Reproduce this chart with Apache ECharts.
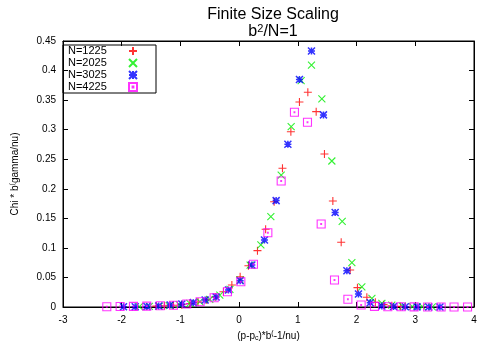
<!DOCTYPE html>
<html>
<head>
<meta charset="utf-8">
<script src="https://cdn.jsdelivr.net/npm/echarts@6/dist/echarts.min.js"></script>
<style>
  html, body { margin: 0; padding: 0; background: #fff; }
  #chart { width: 477px; height: 343px; }
</style>
</head>
<body>
<div id="chart"></div>
<script>
// data
var seriesNames = ['N=1225', 'N=2025', 'N=3025', 'N=4225'];

var x1225 = [-1.41, -1.27, -1.12, -0.98, -0.84, -0.70, -0.55, -0.41, -0.267, -0.124, 0.017, 0.158, 0.312, 0.451, 0.596, 0.738, 0.881, 1.027, 1.170, 1.312, 1.453, 1.596, 1.738, 1.891, 2.015, 2.175, 2.32, 2.46, 2.60, 2.75];
var y1225 = [0.0015, 0.002, 0.003, 0.004, 0.006, 0.0085, 0.012, 0.017, 0.0259, 0.0372, 0.0513, 0.0699, 0.0953, 0.1316, 0.178, 0.2347, 0.2966, 0.3469, 0.3633, 0.3305, 0.2589, 0.1794, 0.1095, 0.0626, 0.0327, 0.0164, 0.008, 0.004, 0.002, 0.001];

var x2025 = [-1.70, -1.53, -1.36, -1.19, -1.02, -0.84, -0.67, -0.50, -0.329, -0.157, 0.015, 0.187, 0.370, 0.540, 0.716, 0.886, 1.056, 1.232, 1.409, 1.579, 1.755, 1.920, 2.090, 2.261, 2.431, 2.60, 2.78, 2.95, 3.12, 3.29];
var y2025 = [0.0006, 0.001, 0.0015, 0.0025, 0.004, 0.006, 0.009, 0.013, 0.020, 0.030, 0.046, 0.071, 0.105, 0.153, 0.223, 0.305, 0.383, 0.409, 0.352, 0.247, 0.145, 0.075, 0.034, 0.0147, 0.006, 0.003, 0.0015, 0.0008, 0.0005, 0.0003];

var x3025 = [-1.97, -1.77, -1.57, -1.37, -1.175, -0.976, -0.78, -0.579, -0.392, -0.182, 0.017, 0.216, 0.431, 0.630, 0.830, 1.027, 1.232, 1.436, 1.635, 1.835, 2.032, 2.232, 2.431, 2.63, 2.83, 3.03, 3.23, 3.42];
var y3025 = [0.0003, 0.0005, 0.001, 0.0017, 0.0034, 0.005, 0.0074, 0.0118, 0.0170, 0.0288, 0.0445, 0.0711, 0.1134, 0.180, 0.2753, 0.385, 0.433, 0.325, 0.160, 0.0614, 0.022, 0.0073, 0.0017, 0.0008, 0.0004, 0.0002, 0.0001, 0.0001];

var x4225 = [-2.254, -2.027, -1.800, -1.573, -1.346, -1.119, -0.892, -0.665, -0.426, -0.199, 0.029, 0.244, 0.489, 0.716, 0.942, 1.164, 1.397, 1.624, 1.852, 2.078, 2.305, 2.532, 2.760, 2.980, 3.210, 3.440, 3.660, 3.890];
var y4225 = [0.0005, 0.0008, 0.001, 0.0015, 0.002, 0.003, 0.005, 0.009, 0.0157, 0.0259, 0.0428, 0.0723, 0.1257, 0.2132, 0.3294, 0.3125, 0.1404, 0.0457, 0.013, 0.0034, 0.001, 0.0005, 0.0003, 0.0002, 0.0001, 0.0001, 0.0001, 0.0001];

var seriesX = [x1225, x2025, x3025, x4225];
var seriesY = [y1225, y2025, y3025, y4225];

var colors = ['#ff0000', '#00ee00', '#0000ff', '#ff00ff'];
// gnuplot point types: plus, cross, star, box with dot
var symbols = [
    'path://M0,5L10,5M5,0L5,10',
    'path://M0,0L10,10M10,0L0,10',
    'path://M0,0L10,10M10,0L0,10M0,5L10,5M5,0L5,10',
    'path://M0,0L10,0L10,10L0,10ZM4.5,4.5L5.5,4.5L5.5,5.5L4.5,5.5Z'
];
var sizes = [8, 7, 7, 8];

var font = 'Liberation Sans, Arial, sans-serif';

function zip(xs, ys) {
    var out = [];
    for (var i = 0; i < xs.length; i++) {
        out.push([xs[i], ys[i]]);
    }
    return out;
}

var series = seriesNames.map(function (name, i) {
    return {
        name: name,
        type: 'scatter',
        xAxisIndex: 0,
        yAxisIndex: 0,
        symbol: symbols[i],
        symbolSize: sizes[i],
        itemStyle: {
            color: 'rgba(0,0,0,0)',
            borderColor: colors[i],
            borderWidth: i === 2 ? 1.5 : 1.1
        },
        z: 2 + i,
        data: zip(seriesX[i], seriesY[i])
    };
});

var chart = echarts.init(document.getElementById('chart'), null, { renderer: 'canvas' });

var tickStyle = { show: true, inside: true, length: 5, lineStyle: { color: '#000', width: 1 } };
var lineStyle = { show: true, onZero: false, lineStyle: { color: '#000' } };

chart.setOption({
    animation: false,
    backgroundColor: '#ffffff',
    title: {
        text: 'Finite Size Scaling\nb{sup|2}/N=1',
        left: 268,
        top: 1,
        textAlign: 'center',
        textStyle: {
            fontFamily: font,
            fontSize: 16,
            fontWeight: 'normal',
            color: '#000',
            lineHeight: 17,
            rich: {
                sup: { fontFamily: font, fontSize: 11, verticalAlign: 'top', lineHeight: 9 }
            }
        }
    },
    legend: {
        orient: 'vertical',
        left: 63,
        top: 45,
        align: 'right',
        itemWidth: 8,
        itemHeight: 8,
        itemGap: 0,
        padding: [0, 18, 0, 5],
        borderColor: '#000',
        borderWidth: 1,
        data: seriesNames,
        formatter: function (name) {
            return '{t|' + name + '}';
        },
        textStyle: {
            fontFamily: font, fontSize: 11, color: '#000', lineHeight: 12,
            rich: { t: { fontFamily: font, fontSize: 11, color: '#000', width: 56, align: 'left', lineHeight: 12 } }
        }
    },
    grid: {
        left: 63,
        right: 3,
        top: 41,
        bottom: 36,
        outerBoundsMode: 'none',
        containLabel: false,
        show: true,
        borderColor: '#000',
        borderWidth: 1
    },
    xAxis: [{
        type: 'value',
        min: -3,
        max: 4,
        interval: 1,
        position: 'bottom',
        axisLine: lineStyle,
        axisTick: tickStyle,
        splitLine: { show: false },
        axisLabel: { fontFamily: font, fontSize: 10, color: '#000', margin: 8 },
        name: '(p-p{sub|c})*b{sup|(}-1/nu)',
        nameLocation: 'middle',
        nameGap: 23,
        nameTextStyle: {
            fontFamily: font, fontSize: 10, color: '#000', lineHeight: 12,
            rich: {
                sub: { fontFamily: font, fontSize: 7, verticalAlign: 'bottom', lineHeight: 7 },
                sup: { fontFamily: font, fontSize: 7, verticalAlign: 'top', lineHeight: 7 }
            }
        }
    }, {
        type: 'value',
        min: -3,
        max: 4,
        interval: 1,
        position: 'top',
        axisLine: lineStyle,
        axisTick: tickStyle,
        axisLabel: { show: false },
        splitLine: { show: false }
    }],
    yAxis: [{
        type: 'value',
        min: 0,
        max: 0.45,
        interval: 0.05,
        position: 'left',
        axisLine: lineStyle,
        axisTick: tickStyle,
        splitLine: { show: false },
        axisLabel: { fontFamily: font, fontSize: 10, color: '#000', margin: 7 },
        name: 'Chi * b{sup|(}gamma/nu)',
        nameLocation: 'middle',
        nameRotate: 90,
        nameGap: 42,
        nameTextStyle: {
            fontFamily: font, fontSize: 10, color: '#000', lineHeight: 12,
            rich: {
                sup: { fontFamily: font, fontSize: 7, verticalAlign: 'top', lineHeight: 7 }
            }
        }
    }, {
        type: 'value',
        min: 0,
        max: 0.45,
        interval: 0.05,
        position: 'right',
        axisLine: lineStyle,
        axisTick: tickStyle,
        axisLabel: { show: false },
        splitLine: { show: false }
    }],
    series: series
});
</script>
</body>
</html>
